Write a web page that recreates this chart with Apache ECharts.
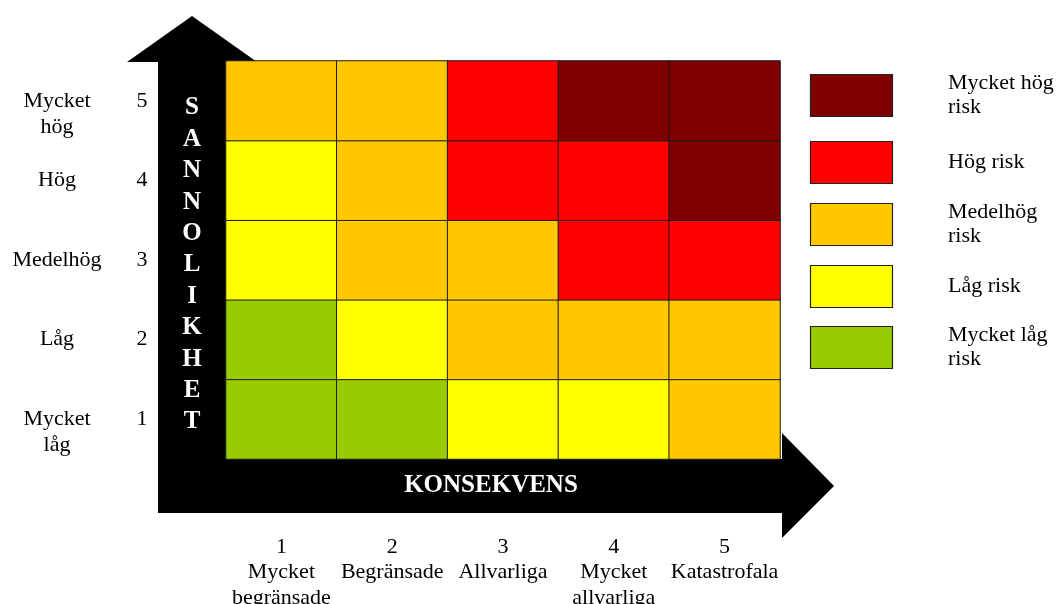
<!DOCTYPE html>
<html>
<head>
<meta charset="utf-8">
<script src="https://cdn.jsdelivr.net/npm/echarts@6/dist/echarts.min.js"></script>
<style>html,body{margin:0;padding:0;background:#fff}#c{width:1060px;height:604px}</style>
</head>
<body>
<div id="c"></div>
<script>
// Data
var consequenceLabels = ['1\nMycket\nbegränsade', '2\nBegränsade', '3\nAllvarliga', '4\nMycket\nallvarliga', '5\nKatastrofala'];
var probabilityNumbers = ['1', '2', '3', '4', '5'];
var probabilityNames = ['Mycket\nlåg', 'Låg', 'Medelhög', 'Hög', 'Mycket\nhög'];
// risk level per row (probability 1..5), columns consequence 1..5
var riskRow1 = [1, 1, 2, 2, 3];
var riskRow2 = [1, 2, 3, 3, 3];
var riskRow3 = [2, 3, 3, 4, 4];
var riskRow4 = [2, 3, 4, 4, 5];
var riskRow5 = [3, 3, 4, 5, 5];
var riskLevelNames = ['Mycket låg\nrisk', 'Låg risk', 'Medelhög\nrisk', 'Hög risk', 'Mycket hög\nrisk'];
var riskLevelColors = ['#99cc00', '#ffff00', '#ffc800', '#ff0000', '#7f0000'];

(function () {
var rows = [riskRow1, riskRow2, riskRow3, riskRow4, riskRow5];
var heatData = [];
rows.forEach(function (r, yi) {
  r.forEach(function (v, xi) { heatData.push([xi, yi, v]); });
});

var serif = '"Liberation Serif", "DejaVu Serif", serif';
var chart = echarts.init(document.getElementById('c'));

var graphics = [];
graphics.push({
  type: 'polygon', z: 0,
  shape: { points: [[192,16],[257,62],[226,62],[226,459],[782,459],[782,433],[834,486],[782,538],[782,513],[158,513],[158,62],[127,62]] },
  style: { fill: '#000' }
});
var word = 'SANNOLIKHET';
for (var i = 0; i < word.length; i++) {
  graphics.push({ type: 'text', z: 5, x: 192, y: 108 + i * 31.4,
    style: { text: word[i], fill: '#fff', font: 'bold 25px ' + serif, align: 'center', verticalAlign: 'middle' } });
}
graphics.push({ type: 'text', z: 5, x: 491, y: 486,
  style: { text: 'KONSEKVENS', fill: '#fff', font: 'bold 25px ' + serif, align: 'center', verticalAlign: 'middle' } });

var boxTops = [74, 141, 203, 265, 326];
for (var k = 0; k < riskLevelNames.length; k++) {
  var idx = riskLevelNames.length - 1 - k;
  var boxTop = boxTops[k];
  graphics.push({ type: 'rect', z: 5, shape: { x: 810.5, y: boxTop + 0.5, width: 82, height: 42 },
    style: { fill: riskLevelColors[idx], stroke: '#222', lineWidth: 1.2 } });
  graphics.push({ type: 'text', z: 5, x: 948, y: boxTop + 21,
    style: { text: riskLevelNames[idx], fill: '#000', font: '22px ' + serif, lineHeight: 24, align: 'left', verticalAlign: 'middle' } });
}

chart.setOption({
  animation: false,
  backgroundColor: '#fff',
  grid: { left: 226, top: 61, width: 554, height: 398, outerBoundsMode: 'none', containLabel: false },
  xAxis: {
    type: 'category', data: consequenceLabels, position: 'bottom',
    axisLine: { show: false }, axisTick: { show: false }, splitLine: { show: false },
    axisLabel: { interval: 0, margin: 75, color: '#000', fontFamily: serif, fontSize: 22, lineHeight: 25.5, align: 'center' }
  },
  yAxis: [{
    type: 'category', data: probabilityNumbers,
    axisLine: { show: false }, axisTick: { show: false }, splitLine: { show: false },
    axisLabel: { interval: 0, margin: 84, color: '#000', fontFamily: serif, fontSize: 22, align: 'center' }
  }, {
    type: 'category', data: probabilityNames, position: 'left',
    axisLine: { show: false }, axisTick: { show: false }, splitLine: { show: false },
    axisLabel: { interval: 0, margin: 169, color: '#000', fontFamily: serif, fontSize: 22, lineHeight: 26, align: 'center',
      formatter: function (v) { return v.indexOf('\n') >= 0 ? ' \n' + v : v; } }
  }],
  visualMap: {
    type: 'piecewise', show: false, dimension: 2,
    pieces: riskLevelColors.map(function (c, i) { return { value: i + 1, color: c }; })
  },
  graphic: graphics,
  series: [{
    type: 'heatmap', data: heatData, z: 3,
    itemStyle: { borderColor: '#1a1a1a', borderWidth: 1 },
    emphasis: { disabled: true }
  }]
});
})();
</script>
</body>
</html>
